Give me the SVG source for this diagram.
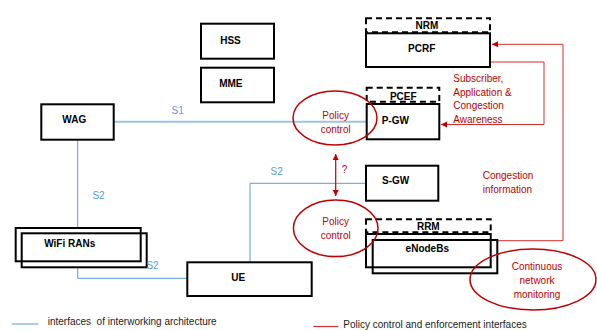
<svg xmlns="http://www.w3.org/2000/svg" width="597" height="330" viewBox="0 0 597 330">
<defs>
<style>
.box{fill:#fff;stroke:#000;stroke-width:2}
.dash{fill:#fff;stroke:#000;stroke-width:2;stroke-dasharray:6,4}
.lbl{font-family:"Liberation Sans",Arial,sans-serif;font-size:10px;font-weight:bold;fill:#000;text-anchor:middle}
.rt{font-family:"Liberation Sans",Arial,sans-serif;font-size:10px;fill:#C00000}
.bt{font-family:"Liberation Sans",Arial,sans-serif;font-size:10px;fill:#5B9BD5;text-anchor:middle}
.lt{font-family:"Liberation Sans",Arial,sans-serif;font-size:10px;fill:#222}
.bl{fill:none;stroke:#5B9BD5;stroke-width:1}
.rl{fill:none;stroke:#D03030;stroke-width:1}
.ell{fill:none;stroke:#C00000;stroke-width:1.5}
</style>
<marker id="ar" markerWidth="8" markerHeight="8" refX="6" refY="3" orient="auto" markerUnits="userSpaceOnUse">
<path d="M0,0 L6,3 L0,6 z" fill="#C00000"/>
</marker>
<marker id="as" markerWidth="8" markerHeight="8" refX="0" refY="3" orient="auto" markerUnits="userSpaceOnUse">
<path d="M6,0 L0,3 L6,6 z" fill="#C00000"/>
</marker>
</defs>
<g id="connectors">
<line x1="114" y1="121.7" x2="367" y2="121.7" stroke="#9DC3E6" stroke-width="2"/>
<polyline class="bl" points="77.7,140 77.7,228"/>
<polyline class="bl" points="77.7,267 77.7,278.3 187.3,278.3"/>
<polyline class="bl" points="250,262.3 250,183.3 366,183.3"/>
<polyline class="rl" points="490,62 544,62 544,124.5 441,124.5" marker-end="url(#ar)"/>
<polyline class="rl" points="497,240.7 563,240.7 563,44.3 492,44.3" marker-end="url(#ar)"/>
<line x1="335.7" y1="154" x2="335.7" y2="196" stroke="#C00000" stroke-width="1.2" marker-start="url(#as)" marker-end="url(#ar)"/>
</g>
<g id="HSS"><rect class="box" x="201" y="23.7" width="73" height="35"/><text class="lbl" x="230.5" y="44">HSS</text></g>
<g id="MME"><rect class="box" x="201" y="67.7" width="73" height="34.6"/><text class="lbl" x="230.8" y="86.5">MME</text></g>
<g id="WAG"><rect class="box" x="41.3" y="104.3" width="72.4" height="35.4"/><text class="lbl" x="74.3" y="122.7">WAG</text></g>
<g id="NRM"><rect class="dash" x="366" y="18.3" width="124" height="14"/><text class="lbl" x="427" y="29">NRM</text></g>
<g id="PCRF"><rect class="box" x="366" y="33.3" width="124" height="33.7"/><text class="lbl" x="421.7" y="51.5">PCRF</text></g>
<g id="PCEF"><rect class="dash" x="366.7" y="87.7" width="72.6" height="14"/><text class="lbl" x="403.3" y="99.5">PCEF</text></g>
<g id="P-GW"><rect class="box" x="366.7" y="104" width="72.6" height="35.3"/><text class="lbl" x="395.3" y="124">P-GW</text></g>
<g id="S-GW"><rect class="box" x="366" y="165.7" width="72.3" height="35"/><text class="lbl" x="395.7" y="184">S-GW</text></g>
<g id="RRM"><rect class="dash" x="366" y="219.3" width="124.7" height="13"/><text class="lbl" x="428.3" y="229.5">RRM</text></g>
<g id="eNodeBs"><rect class="box" x="366" y="234" width="124.7" height="33.3"/><rect class="box" x="372.7" y="240" width="124.6" height="33.3" style="fill:none"/><text class="lbl" x="427.3" y="251.5">eNodeBs</text></g>
<g id="WiFi-RANs"><rect class="box" x="15.7" y="228" width="125" height="33.3"/><rect class="box" x="21.7" y="233.3" width="125" height="34" style="fill:none"/><text class="lbl" x="69.7" y="247">WiFi RANs</text></g>
<g id="UE"><rect class="box" x="187.3" y="262.3" width="124.4" height="33.7"/><text class="lbl" x="238.3" y="281">UE</text></g>
<g id="policy-control-1"><ellipse class="ell" cx="335" cy="118" rx="42" ry="27"/><text class="rt" x="335.7" y="118.5" text-anchor="middle">Policy</text><text class="rt" x="335.7" y="132.5" text-anchor="middle">control</text></g>
<g id="policy-control-2"><ellipse class="ell" cx="335.7" cy="228.3" rx="42.3" ry="28.3"/><text class="rt" x="335.7" y="224.5" text-anchor="middle">Policy</text><text class="rt" x="335.7" y="238.5" text-anchor="middle">control</text></g>
<g id="monitoring"><ellipse class="ell" cx="533" cy="279.5" rx="63" ry="30.5"/><text class="rt" x="537" y="269.5" text-anchor="middle">Continuous</text><text class="rt" x="537" y="283.5" text-anchor="middle">network</text><text class="rt" x="537" y="297.5" text-anchor="middle">monitoring</text></g>
<g id="labels">
<text class="rt" x="453.3" y="82">Subscriber,</text>
<text class="rt" x="453.3" y="95.5">Application &amp;</text>
<text class="rt" x="453.3" y="109">Congestion</text>
<text class="rt" x="453.3" y="122.5">Awareness</text>
<text class="rt" x="482.7" y="179">Congestion</text>
<text class="rt" x="482.7" y="193">information</text>
<text class="rt" x="341.7" y="172.5">?</text>
<text class="bt" x="177.7" y="113.5">S1</text>
<text class="bt" x="98.5" y="199">S2</text>
<text class="bt" x="152.5" y="268.5">S2</text>
<text class="bt" x="276.7" y="175">S2</text>
</g>
<g id="legend">
<line x1="11.7" y1="324" x2="38.3" y2="324" stroke="#5B9BD5" stroke-width="1"/>
<text class="lt" x="47.7" y="324.5" xml:space="preserve">interfaces  of interworking architecture</text>
<line x1="313.3" y1="326.5" x2="338.3" y2="326.5" stroke="#D03030" stroke-width="1.2"/>
<text class="lt" x="343.3" y="327.5">Policy control and enforcement interfaces</text>
</g>
</svg>
